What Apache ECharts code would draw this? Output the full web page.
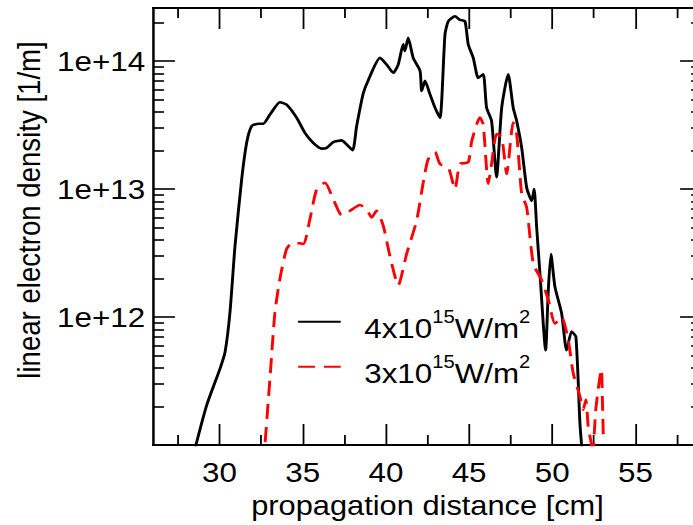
<!DOCTYPE html>
<html>
<head>
<meta charset="utf-8">
<script src="https://cdn.jsdelivr.net/npm/echarts@6/dist/echarts.min.js"></script>
<style>
html,body{margin:0;padding:0;overflow:hidden;background:#fff;width:693px;height:525px}
#c{width:630px;height:525px;transform:scaleX(1.12);transform-origin:0 0}
</style>
</head>
<body>
<div id="c"></div>
<script>
// ---- data ----
const seriesNames = ['4x10^15W/m^2', '3x10^15W/m^2'];

const blackX = [28.3, 28.58, 29.23, 30.03, 30.33, 30.63, 30.93, 31.33, 31.63, 31.93, 32.33, 32.63, 33.03, 33.63, 34.03, 34.64, 35.13, 35.63, 36.14, 36.44, 36.84, 37.34, 37.64, 38.0, 38.24, 38.64, 38.94, 39.64, 40.04, 40.44, 40.74, 41.04, 41.14, 41.34, 41.64, 42.05, 42.15, 42.35, 42.65, 42.95, 43.25, 43.55, 43.75, 44.15, 44.45, 44.75, 44.95, 45.25, 45.55, 45.85, 46.05, 46.35, 46.65, 46.96, 47.35, 47.65, 47.86, 48.16, 48.46, 48.76, 48.91, 49.06, 49.26, 49.60, 49.76, 49.92, 50.16, 50.56, 50.86, 51.16, 51.42, 51.66, 51.76, 51.85];
const blackY = [7e10, 1.0e11, 2.05e11, 3.96e11, 5.3e11, 1.1e12, 3.6e12, 1.19e13, 2.3e13, 3.1e13, 3.24e13, 3.24e13, 3.82e13, 4.77e13, 4.57e13, 3.6e13, 2.75e13, 2.3e13, 2.07e13, 2.1e13, 2.33e13, 2.4e13, 2.23e13, 2.01e13, 3.1e13, 5.6e13, 7.1e13, 1.06e14, 9.4e13, 8.1e13, 9.4e13, 1.35e14, 1.2e14, 1.52e14, 1.06e14, 8.4e13, 5.85e13, 7.0e13, 5.5e13, 4.33e13, 3.6e13, 1.61e14, 2.05e14, 2.24e14, 2.1e14, 2.05e14, 1.35e14, 1.06e14, 7.4e13, 7.9e13, 4.33e13, 3.41e13, 1.24e13, 4.33e13, 7.9e13, 4.33e13, 3.41e13, 2.11e13, 1.03e13, 8.1e12, 1.0e13, 5.05e12, 2.18e12, 5.5e11, 1.62e12, 3.1e12, 1.72e12, 1.07e12, 5.5e11, 7.7e11, 7.0e11, 1.49e11, 1.0e11, 7e10];

const redX = [32.65, 32.73, 33.03, 33.33, 33.63, 34.03, 34.43, 35.03, 35.43, 35.84, 36.34, 36.84, 37.34, 37.84, 38.44, 38.84, 39.14, 39.44, 39.84, 40.24, 40.74, 41.25, 41.85, 42.24, 42.54, 42.95, 43.25, 43.75, 44.15, 44.45, 44.95, 45.16, 45.65, 45.85, 46.15, 46.35, 46.65, 46.96, 47.26, 47.65, 47.86, 48.16, 48.46, 48.86, 49.36, 49.76, 50.16, 50.56, 50.96, 51.26, 51.66, 51.86, 52.02, 52.16, 52.36, 52.42, 52.62, 52.95, 53.01, 53.07];
const redY = [7e10, 1e11, 3.3e11, 1.09e12, 1.99e12, 3.4e12, 3.84e12, 3.72e12, 5.8e12, 9.95e12, 1.12e13, 8.3e12, 6.25e12, 6.76e12, 7.5e12, 6.97e12, 6.0e12, 6.76e12, 5.17e12, 3.0e12, 1.77e12, 3.13e12, 5.7e12, 1.12e13, 1.71e13, 1.95e13, 1.57e13, 1.48e13, 1.0e13, 1.57e13, 1.62e13, 2.38e13, 3.62e13, 3.2e13, 1.1e13, 1.57e13, 2.69e13, 2.53e13, 1.31e13, 3.31e13, 2.69e13, 9.2e12, 7.2e12, 2.61e12, 1.94e12, 1.36e12, 8.9e11, 1.0e12, 6.6e11, 3.64e11, 2.4e11, 1.89e11, 2.26e11, 1.4e11, 1.0e11, 8e10, 1.93e11, 3.9e11, 2.31e11, 1.13e11];

const xMajorTicks = [30, 35, 40, 45, 50, 55];
const xMinorTicks = [27.5, 32.5, 37.5, 42.5, 47.5, 52.5, 57.5];
const yMajorTicks = [1e12, 1e13, 1e14];
const yMinorTicks = [2e11, 3e11, 4e11, 5e11, 6e11, 7e11, 8e11, 9e11,
                     2e12, 3e12, 4e12, 5e12, 6e12, 7e12, 8e12, 9e12,
                     2e13, 3e13, 4e13, 5e13, 6e13, 7e13, 8e13, 9e13, 2e14];
const xTitle = 'propagation distance [cm]';
const yTitle = 'linear electron density [1/m]';

// ---- chart ----
const FONT = "'Liberation Sans', Arial, Helvetica, sans-serif";
const lineCol = '#000';

function mkX(position, ticks, len, extra) {
  return Object.assign({
    type: 'value', position: position, min: 26, max: 59,
    axisLine: {show: true, onZero: false, lineStyle: {color: lineCol, width: 1.8}},
    axisTick: {show: true, inside: true, length: len, customValues: ticks, lineStyle: {color: lineCol, width: 1.6}},
    axisLabel: {show: false},
    splitLine: {show: false}, minorTick: {show: false}
  }, extra || {});
}
function mkY(position, ticks, len, extra) {
  return Object.assign({
    type: 'log', logBase: 10, position: position, min: 1e11, max: 2.6e14,
    axisLine: {show: true, onZero: false, lineStyle: {color: lineCol, width: 1.8}},
    axisTick: {show: true, inside: true, length: len, customValues: ticks, lineStyle: {color: lineCol, width: 1.6}},
    axisLabel: {show: false},
    splitLine: {show: false}, minorTick: {show: false}
  }, extra || {});
}

const chart = echarts.init(document.getElementById('c'), null, {renderer: 'svg'});
chart.setOption({
  animation: false,
  backgroundColor: '#fff',
  grid: {left: 136.6, top: 8, width: 490.2, height: 438, containLabel: false},
  xAxis: [
    mkX('bottom', xMajorTicks, 21, {
      axisLabel: {show: true, customValues: xMajorTicks, margin: 13, fontSize: 28, color: '#000', fontFamily: FONT},
      name: xTitle, nameLocation: 'middle', nameGap: 47,
      nameTextStyle: {fontSize: 27.5, color: '#000', fontFamily: FONT}
    }),
    mkX('bottom', xMinorTicks, 10),
    mkX('top', xMajorTicks, 21),
    mkX('top', xMinorTicks, 10)
  ],
  yAxis: [
    mkY('left', yMajorTicks, 19.6, {
      axisLabel: {show: true, customValues: yMajorTicks, margin: 7, fontSize: 28, color: '#000', fontFamily: FONT,
        formatter: function (v) { return '1e+' + Math.round(Math.log10(v)); }},
      name: yTitle, nameLocation: 'middle', nameGap: 96,
      nameTextStyle: {fontSize: 27.6, color: '#000', fontFamily: FONT, padding: [0, 0, 0, 33]}
    }),
    mkY('left', yMinorTicks, 9.8),
    mkY('right', yMajorTicks, 19.6),
    mkY('right', yMinorTicks, 9.8)
  ],
  legend: {
    orient: 'vertical', left: 265.2, top: 295.7, padding: 0,
    itemWidth: 38, itemHeight: 10, itemGap: -7,
    data: seriesNames,
    itemStyle: {opacity: 0},
    formatter: function (n) { return n.replace(/\^(\d+)/g, '{s|$1}'); },
    textStyle: {fontSize: 28, color: '#000', fontFamily: FONT, lineHeight: 40, padding: [12, 0, 0, 16],
      rich: {s: {fontSize: 18, lineHeight: 18, verticalAlign: 'top', color: '#000', fontFamily: FONT}}}
  },
  series: [
    {
      name: seriesNames[0], type: 'line', xAxisIndex: 0, yAxisIndex: 0,
      data: blackX.map(function (x, i) { return [x, blackY[i]]; }),
      showSymbol: false, symbol: 'none', smooth: 0.2, clip: true,
      lineStyle: {color: '#000', width: 2.6}, itemStyle: {color: '#000'}
    },
    {
      name: seriesNames[1], type: 'line', xAxisIndex: 0, yAxisIndex: 0,
      data: redX.map(function (x, i) { return [x, redY[i]]; }),
      showSymbol: false, symbol: 'none', smooth: 0.2, clip: true,
      lineStyle: {color: '#ff0000', width: 2.6, type: [15, 8]}, itemStyle: {color: '#ff0000'}
    }
  ]
});
</script>
</body>
</html>
